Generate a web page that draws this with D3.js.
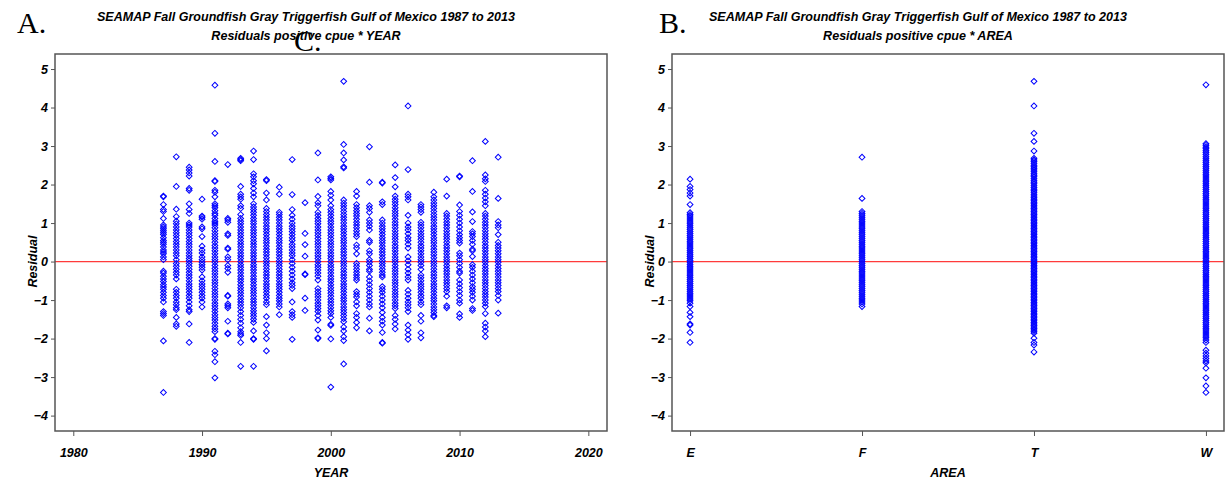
<!DOCTYPE html>
<html>
<head>
<meta charset="utf-8">
<script src="https://cdn.jsdelivr.net/npm/d3@7"></script>
<style>
  body { margin: 0; background: #fff; }
  svg { display: block; }
</style>
</head>
<body>
<div id="chart"></div>
<script>
// residuals by survey year (panel A)
const r1987 = [1.7,1.68,1.48,1.35,1.3,1.12,0.95,0.9,0.85,0.8,0.75,0.7,0.62,0.55,0.5,0.45,0.38,0.3,0.25,0.2,0.12,0.05,-0.25,-0.3,-0.38,-0.45,-0.52,-0.6,-0.66,-0.72,-0.8,-0.88,-0.95,-1.05,-1.3,-1.35,-1.4,-2.06,-3.4];
const r1988 = [2.72,1.95,1.36,1.17,1.05,0.98,0.9,0.82,0.75,0.68,0.6,0.52,0.45,0.38,0.3,0.22,0.15,0.05,-0.05,-0.12,-0.2,-0.28,-0.35,-0.45,-0.72,-0.8,-0.88,-0.95,-1.05,-1.12,-1.2,-1.25,-1.45,-1.62,-1.68];
const r1989 = [2.45,2.38,2.3,2.22,1.9,1.85,1.5,1.35,1.25,1.0,0.95,0.9,0.82,0.75,0.68,0.6,0.52,0.45,0.38,0.3,0.22,0.15,0.08,0.02,-0.05,-0.12,-0.2,-0.28,-0.35,-0.42,-0.5,-0.58,-0.65,-0.72,-0.8,-0.88,-0.95,-1.05,-1.15,-1.25,-1.3,-1.62,-2.1];
const r1990 = [1.62,1.18,1.15,1.1,0.9,0.85,0.65,0.4,0.3,0.22,0.12,0.05,-0.02,-0.08,-0.15,-0.22,-0.4,-0.5,-0.58,-0.65,-0.72,-0.8,-0.88,-0.95,-1.05,-1.18];
const r1991 = [4.58,3.33,2.6,2.1,2.08,1.85,1.8,1.68,1.5,1.45,1.4,1.32,1.25,1.2,1.12,1.05,1.0,0.95,0.88,0.8,0.72,0.65,0.58,0.5,0.42,0.35,0.28,0.2,0.12,0.05,-0.02,-0.1,-0.18,-0.25,-0.32,-0.4,-0.48,-0.55,-0.62,-0.7,-0.78,-0.85,-0.92,-1.0,-1.08,-1.15,-1.22,-1.3,-1.38,-1.45,-1.52,-1.6,-1.68,-1.75,-1.82,-2.0,-2.02,-2.33,-2.42,-2.6,-3.02];
const r1992 = [2.52,1.12,1.08,1.02,0.72,0.68,0.35,0.32,0.12,0.05,-0.1,-0.18,-0.28,-0.88,-0.9,-1.1,-1.15,-1.2,-1.55,-1.86,-1.88];
const r1993 = [2.68,2.65,2.62,1.95,1.75,1.68,1.62,1.45,1.38,1.22,1.12,1.05,0.98,0.9,0.82,0.75,0.68,0.6,0.52,0.45,0.38,0.3,0.22,0.15,0.08,0.0,-0.08,-0.15,-0.22,-0.3,-0.38,-0.45,-0.52,-0.6,-0.68,-0.75,-0.82,-0.9,-0.98,-1.05,-1.12,-1.2,-1.3,-1.4,-1.5,-1.6,-1.72,-1.82,-1.88,-1.92,-2.1,-2.72];
const r1994 = [2.87,2.65,2.28,2.2,2.1,2.02,1.9,1.78,1.68,1.5,1.42,1.35,1.28,1.2,1.12,1.05,0.98,0.9,0.82,0.75,0.68,0.6,0.52,0.45,0.38,0.3,0.22,0.15,0.08,0.0,-0.08,-0.15,-0.22,-0.3,-0.38,-0.45,-0.52,-0.6,-0.68,-0.75,-0.82,-0.9,-0.98,-1.05,-1.12,-1.2,-1.28,-1.35,-1.42,-1.5,-1.58,-1.8,-2.0,-2.02,-2.72];
const r1995 = [2.13,2.1,1.78,1.6,1.38,1.3,1.22,1.15,1.08,1.0,0.92,0.85,0.78,0.7,0.62,0.55,0.48,0.4,0.32,0.25,0.18,0.1,0.02,-0.05,-0.12,-0.2,-0.28,-0.35,-0.42,-0.5,-0.58,-0.65,-0.72,-0.8,-0.88,-0.95,-1.05,-1.12,-1.43,-1.65,-1.85,-2.0,-2.32];
const r1996 = [1.93,1.75,1.28,1.22,1.15,1.08,1.0,0.92,0.85,0.78,0.7,0.62,0.55,0.48,0.4,0.32,0.25,0.18,0.1,0.02,-0.05,-0.12,-0.2,-0.28,-0.35,-0.42,-0.5,-0.58,-0.65,-0.72,-0.8,-0.88,-0.95,-1.02,-1.1,-1.18,-1.38];
const r1997 = [2.65,1.74,1.35,1.2,1.1,1.0,0.92,0.85,0.78,0.7,0.62,0.55,0.45,0.38,0.3,0.22,0.15,0.05,-0.05,-0.15,-0.25,-0.35,-0.45,-0.55,-0.62,-0.7,-1.05,-1.3,-1.38,-1.45,-2.02];
const r1998 = [1.53,0.73,0.44,0.14,-0.32,-0.34,-0.95,-1.27];
const r1999 = [2.82,2.12,1.69,1.53,1.45,1.28,1.2,1.12,1.05,0.98,0.9,0.82,0.75,0.68,0.6,0.52,0.45,0.38,0.3,0.22,0.15,0.08,0.0,-0.08,-0.15,-0.22,-0.3,-0.38,-0.48,-0.7,-0.78,-0.85,-0.92,-1.0,-1.08,-1.15,-1.22,-1.3,-1.4,-1.52,-1.78,-1.98,-2.0];
const r2000 = [2.2,2.16,2.12,1.82,1.72,1.6,1.45,1.35,1.28,1.2,1.12,1.05,0.98,0.9,0.82,0.75,0.68,0.6,0.52,0.45,0.38,0.3,0.22,0.15,0.08,0.0,-0.08,-0.15,-0.22,-0.3,-0.38,-0.45,-0.52,-0.6,-0.68,-0.75,-0.82,-0.9,-0.98,-1.05,-1.12,-1.2,-1.28,-1.35,-1.45,-1.63,-1.66,-2.01,-3.26];
const r2001 = [4.68,3.04,2.82,2.64,2.46,2.43,1.6,1.52,1.45,1.38,1.3,1.22,1.15,1.08,1.0,0.92,0.85,0.78,0.7,0.62,0.55,0.48,0.4,0.32,0.25,0.18,0.1,0.02,-0.05,-0.12,-0.2,-0.28,-0.35,-0.42,-0.5,-0.58,-0.65,-0.72,-0.8,-0.88,-0.95,-1.02,-1.1,-1.18,-1.25,-1.32,-1.4,-1.48,-1.56,-1.7,-1.8,-1.95,-2.05,-2.66];
const r2002 = [1.82,1.7,1.48,1.4,1.32,1.25,1.18,1.1,1.02,0.95,0.88,0.8,0.72,0.65,0.43,0.35,0.2,-0.05,-0.12,-0.2,-0.28,-0.35,-0.42,-0.48,-0.78,-0.85,-0.92,-1.05,-1.15,-1.35,-1.45,-1.58,-1.72];
const r2003 = [2.98,2.06,1.45,1.38,1.28,1.08,1.0,0.92,0.82,0.55,0.5,0.28,0.2,0.05,-0.02,-0.1,-0.2,-0.25,-0.4,-0.5,-0.6,-0.7,-0.8,-0.9,-1.0,-1.1,-1.18,-1.47,-1.8];
const r2004 = [2.06,2.04,1.55,1.48,1.08,1.0,0.92,0.85,0.78,0.7,0.62,0.55,0.48,0.4,0.32,0.25,0.18,0.1,0.02,-0.05,-0.12,-0.2,-0.28,-0.35,-0.4,-0.65,-0.72,-0.8,-0.9,-1.0,-1.1,-1.2,-1.32,-1.45,-1.55,-1.65,-1.84,-2.1,-2.12];
const r2005 = [2.51,2.18,1.94,1.7,1.62,1.55,1.48,1.4,1.32,1.25,1.18,1.1,1.02,0.95,0.88,0.8,0.72,0.65,0.58,0.5,0.42,0.35,0.28,0.2,0.12,0.05,-0.02,-0.1,-0.18,-0.25,-0.32,-0.4,-0.48,-0.55,-0.62,-0.7,-0.78,-0.85,-0.92,-1.0,-1.08,-1.15,-1.22,-1.4,-1.5,-1.62,-1.75];
const r2006 = [4.04,2.39,1.75,1.68,1.6,1.2,1.0,0.9,0.82,0.72,0.62,0.55,0.45,0.35,0.12,0.02,-0.08,-0.2,-0.3,-0.4,-0.48,-0.75,-0.85,-0.95,-1.05,-1.12,-1.2,-1.3,-1.65,-1.78,-1.9,-2.02];
const r2007 = [1.48,1.42,1.35,1.28,1.02,0.95,0.88,0.8,0.72,0.65,0.58,0.5,0.42,0.35,0.28,0.2,0.12,0.05,-0.02,-0.1,-0.2,-0.35,-0.42,-0.5,-0.58,-0.65,-0.72,-0.8,-0.88,-0.95,-1.05,-1.12,-1.4,-1.55,-1.85,-1.98];
const r2008 = [1.8,1.68,1.6,1.52,1.45,1.38,1.3,1.22,1.15,1.08,1.0,0.92,0.85,0.78,0.7,0.62,0.55,0.48,0.4,0.32,0.25,0.18,0.1,0.02,-0.05,-0.12,-0.2,-0.28,-0.35,-0.42,-0.5,-0.58,-0.65,-0.72,-0.8,-0.88,-0.95,-1.02,-1.1,-1.18,-1.25,-1.32,-1.4,-1.43];
const r2009 = [2.14,1.7,1.25,1.18,1.1,1.02,0.95,0.88,0.8,0.72,0.65,0.58,0.5,0.42,0.35,0.28,0.2,0.12,0.05,-0.02,-0.1,-0.18,-0.25,-0.32,-0.4,-0.48,-0.55,-0.62,-0.7,-0.78,-0.9,-1.15,-1.2];
const r2010 = [2.22,2.2,1.47,1.3,1.2,1.1,1.0,0.9,0.8,0.7,0.62,0.55,0.48,0.22,0.15,0.05,-0.05,-0.15,-0.25,-0.3,-0.48,-0.58,-0.68,-0.78,-0.88,-1.0,-1.08,-1.36,-1.45];
const r2011 = [2.62,1.82,1.29,1.04,0.78,0.72,0.65,0.55,0.45,0.32,0.28,0.13,-0.08,-0.15,-0.25,-0.35,-0.45,-0.55,-0.65,-0.72,-0.8,-0.9,-1.0,-1.22,-1.27];
const r2012 = [3.12,2.25,2.15,2.08,1.85,1.75,1.65,1.55,1.45,1.25,1.18,1.1,1.02,0.95,0.88,0.8,0.72,0.65,0.58,0.5,0.42,0.35,0.28,0.2,0.12,0.05,-0.02,-0.1,-0.18,-0.25,-0.32,-0.4,-0.48,-0.55,-0.62,-0.7,-0.78,-0.85,-0.92,-1.0,-1.08,-1.17,-1.35,-1.6,-1.7,-1.8,-1.95];
const r2013 = [2.71,1.64,1.04,0.95,0.88,0.7,0.5,0.42,0.35,0.28,0.2,0.12,0.05,-0.02,-0.1,-0.18,-0.25,-0.32,-0.4,-0.48,-0.55,-0.62,-0.7,-0.78,-0.88,-1.0,-1.34];

const years = [1987,1988,1989,1990,1991,1992,1993,1994,1995,1996,1997,1998,1999,2000,
               2001,2002,2003,2004,2005,2006,2007,2008,2009,2010,2011,2012,2013];
const yearResiduals = [r1987,r1988,r1989,r1990,r1991,r1992,r1993,r1994,r1995,r1996,r1997,r1998,r1999,r2000,
                       r2001,r2002,r2003,r2004,r2005,r2006,r2007,r2008,r2009,r2010,r2011,r2012,r2013];

// residuals by area (panel B)
const areas = ['E','F','T','W'];
const resE = [2.14,1.95,1.87,1.78,1.7,1.48,1.27,1.22,1.18,1.13,1.08,1.03,0.98,0.93,0.88,0.83,0.78,0.73,0.68,0.63,0.58,0.53,0.48,0.43,0.38,0.33,0.28,0.23,0.18,0.13,0.08,0.03,-0.02,-0.07,-0.12,-0.17,-0.22,-0.27,-0.32,-0.37,-0.42,-0.47,-0.52,-0.57,-0.62,-0.67,-0.72,-0.77,-0.82,-0.87,-0.92,-0.97,-1.02,-1.08,-1.17,-1.32,-1.43,-1.62,-1.65,-1.84,-2.1];
const resF = [2.71,1.64,1.3,1.25,1.2,1.15,1.1,1.05,1.0,0.95,0.9,0.85,0.8,0.75,0.7,0.65,0.6,0.55,0.5,0.45,0.4,0.35,0.3,0.25,0.2,0.15,0.1,0.05,0.0,-0.05,-0.1,-0.15,-0.2,-0.25,-0.3,-0.35,-0.4,-0.45,-0.5,-0.55,-0.6,-0.65,-0.7,-0.75,-0.8,-0.85,-0.9,-0.95,-1.0,-1.05,-1.1,-1.17];
const resT = [4.68,4.04,3.33,3.12,2.87,2.68,2.64,2.6,2.55,2.5,2.46,2.42,2.38,2.33,2.28,2.24,2.2,2.15,2.1,2.06,2.02,1.97,1.92,1.88,1.84,1.8,1.75,1.7,1.66,1.62,1.58,1.54,1.5,1.46,1.42,1.38,1.34,1.3,1.26,1.22,1.18,1.14,1.1,1.06,1.02,0.98,0.94,0.9,0.86,0.82,0.78,0.74,0.7,0.66,0.62,0.58,0.54,0.5,0.46,0.42,0.38,0.34,0.3,0.26,0.22,0.18,0.14,0.1,0.06,0.02,-0.02,-0.06,-0.1,-0.14,-0.18,-0.22,-0.26,-0.3,-0.34,-0.38,-0.42,-0.46,-0.5,-0.54,-0.58,-0.62,-0.66,-0.7,-0.74,-0.78,-0.82,-0.86,-0.9,-0.94,-0.98,-1.02,-1.06,-1.1,-1.14,-1.18,-1.22,-1.26,-1.3,-1.34,-1.38,-1.42,-1.46,-1.5,-1.54,-1.58,-1.62,-1.66,-1.7,-1.74,-1.78,-1.82,-1.86,-1.99,-2.1,-2.17,-2.35];
const resW = [4.59,3.06,3.02,2.97,2.93,2.88,2.83,2.78,2.72,2.67,2.62,2.57,2.52,2.47,2.42,2.37,2.32,2.27,2.22,2.17,2.12,2.07,2.02,1.97,1.92,1.87,1.82,1.77,1.72,1.67,1.62,1.57,1.52,1.47,1.42,1.37,1.32,1.27,1.22,1.17,1.12,1.07,1.02,0.97,0.92,0.87,0.82,0.77,0.72,0.67,0.62,0.57,0.52,0.47,0.42,0.37,0.32,0.27,0.22,0.17,0.12,0.07,0.02,-0.03,-0.08,-0.13,-0.18,-0.23,-0.28,-0.33,-0.38,-0.43,-0.48,-0.53,-0.58,-0.63,-0.68,-0.73,-0.78,-0.83,-0.88,-0.93,-0.98,-1.03,-1.08,-1.13,-1.18,-1.23,-1.28,-1.33,-1.38,-1.43,-1.48,-1.53,-1.58,-1.63,-1.68,-1.73,-1.78,-1.83,-1.88,-1.93,-1.98,-2.04,-2.1,-2.3,-2.38,-2.45,-2.52,-2.58,-2.63,-2.77,-3.02,-3.23,-3.4];
const areaResiduals = [resE, resF, resT, resW];

const yTicks = [-4,-3,-2,-1,0,1,2,3,4,5];
const yearTicks = [1980,1990,2000,2010,2020];

const titleLine1 = 'SEAMAP Fall Groundfish Gray Triggerfish Gulf of Mexico 1987 to 2013';

// layout
const width = 1225;
const height = 483;
const plotTop = 54;
const plotBottom = 431;
const panelA = {left: 55, right: 607, mid: 306};
const panelB = {left: 672, right: 1224, mid: 918};
const blue = '#0000ff';
const frameColor = '#555';
const labelFont = 'Liberation Sans, Arial, sans-serif';
const marker = d3.symbol(d3.symbolSquare, 17);

const svg = d3.select('#chart').append('svg')
    .attr('width', width)
    .attr('height', height);

const yScale = d3.scaleLinear()
    .domain([-4.4, 5.39])
    .range([plotBottom, plotTop]);

const xYear = d3.scaleLinear()
    .domain([1978.58, 2021.45])
    .range([panelA.left, panelA.right]);

const xArea = d3.scalePoint()
    .domain(areas)
    .range([panelB.left, panelB.right])
    .padding(0.105);

const drawTitle = (p, line2, letter, letterX) => {
    const t1 = svg.append('text')
        .attr('x', p.mid).attr('y', 21)
        .attr('text-anchor', 'middle')
        .style('font', `italic bold 12px ${labelFont}`)
        .text(titleLine1);
    const t2 = svg.append('text')
        .attr('x', p.mid).attr('y', 40)
        .attr('text-anchor', 'middle')
        .style('font', `italic bold 12px ${labelFont}`)
        .text(line2);
    const k = 418 / t1.node().getComputedTextLength();
    t1.attr('textLength', 418).attr('lengthAdjust', 'spacingAndGlyphs');
    t2.attr('textLength', t2.node().getComputedTextLength() * k).attr('lengthAdjust', 'spacingAndGlyphs');

    svg.append('text')
        .attr('x', letterX).attr('y', 33)
        .style('font', '30px Liberation Serif, Times New Roman, serif')
        .text(letter);
};

const drawFrame = (p, xScale, tickVals, tickFmt, xLabel) => {
    const g = svg.append('g');

    // y axis ticks + labels
    const yAxis = g.append('g')
        .attr('transform', `translate(${p.left},0)`)
        .call(d3.axisLeft(yScale).tickValues(yTicks).tickSize(4).tickPadding(3)
            .tickFormat(d => d < 0 ? '\u2212' + Math.abs(d) : d));
    yAxis.select('.domain').remove();
    yAxis.selectAll('.tick line').attr('stroke', frameColor);
    yAxis.selectAll('.tick text')
        .style('font', `italic bold 12.5px ${labelFont}`)
        .attr('fill', '#000');

    const xAxis = g.append('g')
        .attr('transform', `translate(0,${plotBottom})`)
        .call(d3.axisBottom(xScale).tickValues(tickVals).tickSize(5).tickPadding(12)
            .tickFormat(tickFmt));
    xAxis.select('.domain').remove();
    xAxis.selectAll('.tick line').attr('stroke', frameColor);
    xAxis.selectAll('.tick text')
        .style('font', `italic bold 12.5px ${labelFont}`)
        .attr('fill', '#000');

    // zero reference line
    g.append('line')
        .attr('x1', p.left).attr('x2', p.right)
        .attr('y1', yScale(0)).attr('y2', yScale(0))
        .attr('stroke', '#ff3b3b')
        .attr('stroke-width', 1.2);

    svg.append('text')
        .attr('transform', `translate(${p.left - 18},${yScale(0)}) rotate(-90)`)
        .attr('text-anchor', 'middle')
        .style('font', `italic bold 12.5px ${labelFont}`)
        .text('Residual');

    svg.append('text')
        .attr('x', (p.left + p.right) / 2).attr('y', 477)
        .attr('text-anchor', 'middle')
        .style('font', `italic bold 12.5px ${labelFont}`)
        .text(xLabel);
    return g;
};

const drawBox = (p) => {
    svg.append('rect')
        .attr('x', p.left).attr('y', plotTop)
        .attr('width', p.right - p.left).attr('height', plotBottom - plotTop)
        .attr('fill', 'none')
        .attr('stroke', frameColor)
        .attr('stroke-width', 1.5);
};

const drawPoints = (g, cats, lists, xScale) => {
    const pts = [];
    cats.forEach((c, i) => lists[i].forEach(v => pts.push({c: c, v: v})));
    g.append('g').selectAll('path')
        .data(pts)
        .join('path')
        .attr('d', marker)
        .attr('transform', d => `translate(${xScale(d.c)},${yScale(d.v)}) rotate(45)`)
        .attr('fill', 'none')
        .attr('stroke', blue)
        .attr('stroke-width', 1);
};

// panel A
drawTitle(panelA, 'Residuals positive cpue * YEAR', 'A.', 17);
const gA = drawFrame(panelA, xYear, yearTicks, d3.format('d'), 'YEAR');
drawPoints(gA, years, yearResiduals, xYear);
drawBox(panelA);

// panel B
drawTitle(panelB, 'Residuals positive cpue * AREA', 'B.', 659);
const gB = drawFrame(panelB, xArea, areas, d => d, 'AREA');
drawPoints(gB, areas, areaResiduals, xArea);
drawBox(panelB);

// stray "C." label overlapping panel A title
svg.append('text')
    .attr('x', 294).attr('y', 51)
    .style('font', '30px Liberation Serif, Times New Roman, serif')
    .text('C.');
</script>
</body>
</html>
